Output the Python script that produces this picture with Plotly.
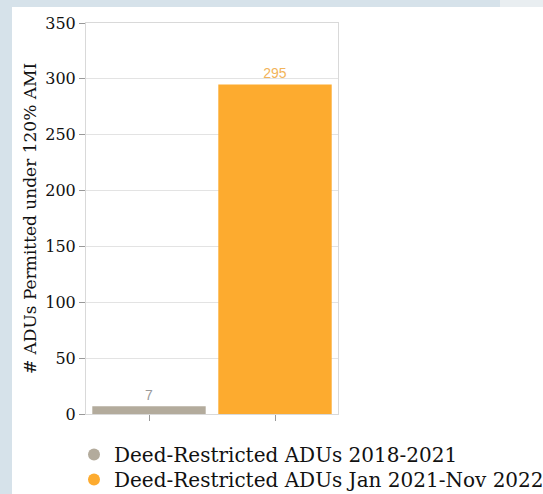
import plotly.graph_objects as go

# Data
categories = ["Deed-Restricted ADUs 2018-2021", "Deed-Restricted ADUs Jan 2021-Nov 2022"]
values = [7, 295]
bar_colors = ["#b3ab9c", "#fdab2f"]
label_colors = ["#9a9a9a", "#f2b45a"]
y_ticks = [0, 50, 100, 150, 200, 250, 300, 350]

W, H = 543, 494
L, R, T, B = 86, 205, 23, 80
pw, ph = W - L - R, H - T - B

SERIF = "DejaVu Serif, Georgia, serif"

# pixel -> paper coordinate helpers
def px_x(p):
    return (p - L) / pw

def px_y(p):
    return (H - B - p) / ph

fig = go.Figure()

legend_ids = ["legend", "legend2"]
for cat, val, col, lcol, lg in zip(categories, values, bar_colors, label_colors, legend_ids):
    fig.add_trace(go.Bar(
        x=[cat], y=[val], marker=dict(color=col, line=dict(width=0)),
        text=[str(val)], textposition="outside", cliponaxis=False,
        textfont=dict(family="Liberation Sans, Arial, sans-serif", size=14, color=lcol),
        showlegend=False, hoverinfo="skip",
    ))
    # legend entry with circular marker
    fig.add_trace(go.Scatter(
        x=[None], y=[None], mode="markers", name=cat, legend=lg,
        marker=dict(color=col, size=11, symbol="circle"),
    ))

# white card behind the chart
fig.add_shape(type="rect", xref="paper", yref="paper", layer="below",
              x0=px_x(12), x1=px_x(W + 5), y0=px_y(H + 5), y1=px_y(7),
              fillcolor="white", line=dict(width=0))
fig.add_shape(type="rect", xref="paper", yref="paper", layer="below",
              x0=px_x(500), x1=px_x(W + 5), y0=px_y(7), y1=px_y(-5),
              fillcolor="#e9eef1", line=dict(width=0))

legend_style = dict(
    orientation="v", x=px_x(74), xanchor="left", yanchor="top",
    font=dict(family=SERIF, size=20, color="#111"),
    bgcolor="rgba(0,0,0,0)", itemsizing="constant",
)

fig.update_layout(
    width=W, height=H,
    margin=dict(l=L, r=R, t=T, b=B, autoexpand=False),
    paper_bgcolor="#d6e2ea",
    plot_bgcolor="white",
    barmode="overlay",
    bargap=0.1,
    font=dict(family=SERIF, color="#111"),
    legend=dict(legend_style, y=px_y(435)),
    legend2=dict(legend_style, y=px_y(460)),
)

fig.update_xaxes(
    type="category", categoryorder="array", categoryarray=categories,
    range=[-0.5, 1.5], showticklabels=False,
    ticks="outside", ticklen=6, tickcolor="#999", tickwidth=1,
    showline=True, linecolor="#d9d9d9", linewidth=1, mirror=True,
    showgrid=False, zeroline=False, fixedrange=True,
)
fig.update_yaxes(
    range=[0, 350], tickvals=y_ticks, ticktext=[str(v) for v in y_ticks],
    ticks="outside", ticklen=6, tickcolor="#999", tickwidth=1,
    tickfont=dict(family=SERIF, size=16, color="#111"),
    showgrid=True, gridcolor="#e3e3e3", gridwidth=1,
    showline=True, linecolor="#d9d9d9", linewidth=1, mirror=True,
    zeroline=False,
    title=dict(text="# ADUs Permitted under 120% AMI", standoff=4,
               font=dict(family=SERIF, size=17, color="#111")),
)

fig.write_html("out.html")
